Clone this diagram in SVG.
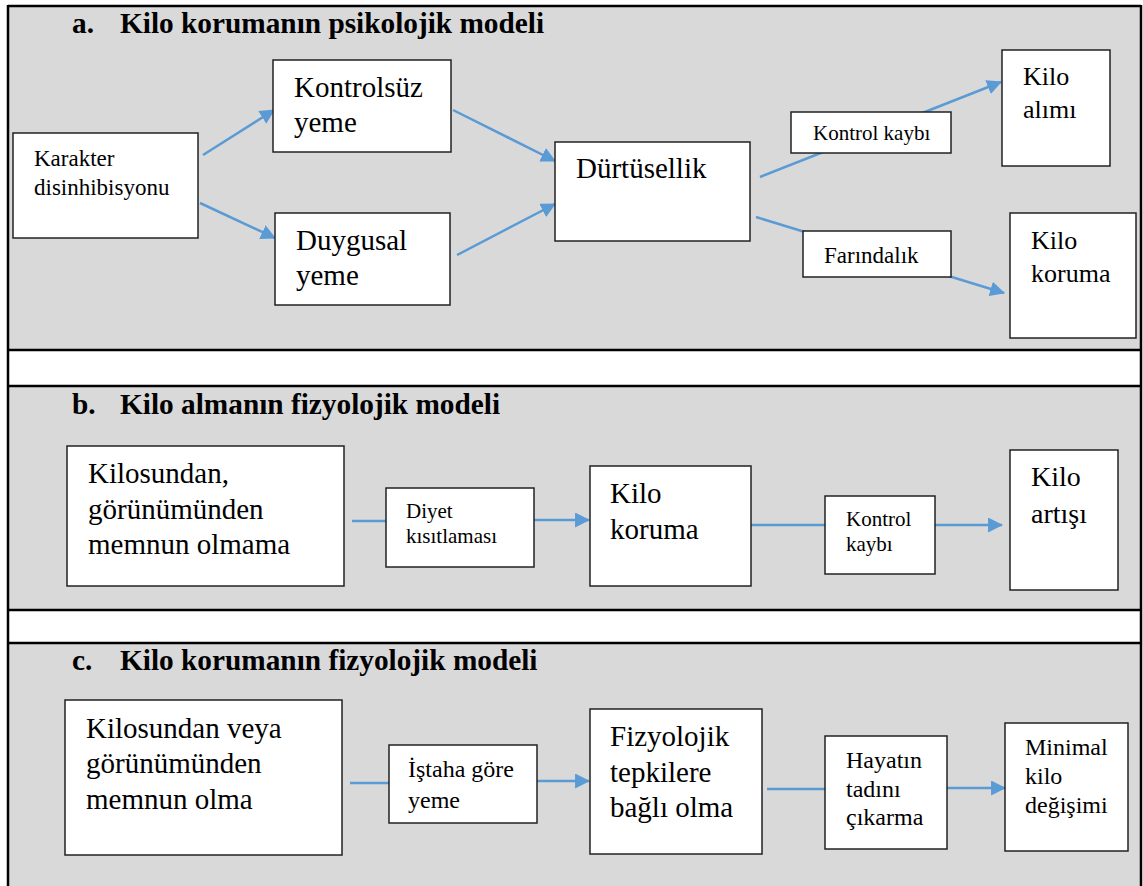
<svg xmlns="http://www.w3.org/2000/svg" width="1143" height="886" viewBox="0 0 1143 886">
<defs>
<marker id="ah" viewBox="0 0 14 14" refX="13" refY="7" markerWidth="15" markerHeight="15" markerUnits="userSpaceOnUse" orient="auto">
<path d="M0,0 L14,7 L0,14 z" fill="#5B9BD5"/>
</marker>
</defs>
<style>
.bg{fill:#D9D9D9}
.frame{fill:none;stroke:#000;stroke-width:2.5}
.box{fill:#fff;stroke:#222;stroke-width:1.5}
.t{font-family:"Liberation Serif","Times New Roman",serif;fill:#000}
.title{font-family:"Liberation Serif","Times New Roman",serif;font-weight:bold;font-size:29.3px;fill:#000}
.c{fill:none;stroke:#5B9BD5;stroke-width:2.5}
.arr{marker-end:url(#ah)}
</style>
<rect x="0" y="0" width="1143" height="886" fill="#fff"/>
<rect class="bg" x="8" y="6" width="1133" height="344"/>
<rect class="bg" x="8" y="386" width="1133" height="224"/>
<rect class="bg" x="8" y="643" width="1133" height="250"/>
<g id="frame">
<line class="frame" x1="8" y1="6" x2="1141" y2="6"/>
<line class="frame" x1="8" y1="5" x2="8" y2="886"/>
<line class="frame" x1="1141" y1="5" x2="1141" y2="886"/>
<line class="frame" x1="8" y1="350" x2="1141" y2="350"/>
<line class="frame" x1="8" y1="386" x2="1141" y2="386"/>
<line class="frame" x1="8" y1="610" x2="1141" y2="610"/>
<line class="frame" x1="8" y1="643" x2="1141" y2="643"/>
</g>
<g id="titles">
<text class="title" x="72" y="33">a.</text><text class="title" x="120" y="33">Kilo korumanın psikolojik modeli</text>
<text class="title" x="72" y="414">b.</text><text class="title" x="120" y="414">Kilo almanın fizyolojik modeli</text>
<text class="title" x="72" y="670">c.</text><text class="title" x="120" y="670">Kilo korumanın fizyolojik modeli</text>
</g>
<g id="connectors">
<line class="c arr" x1="203" y1="155" x2="274" y2="110"/>
<line class="c arr" x1="200" y1="203" x2="275" y2="238"/>
<line class="c arr" x1="453" y1="110" x2="555" y2="161"/>
<line class="c arr" x1="457" y1="255" x2="555" y2="204"/>
<line class="c arr" x1="760" y1="177" x2="1001" y2="82"/>
<line class="c arr" x1="756" y1="217" x2="1004" y2="293"/>
<line class="c" x1="352" y1="521" x2="386" y2="521"/>
<line class="c arr" x1="534" y1="520" x2="589" y2="520"/>
<line class="c" x1="751" y1="525" x2="825" y2="525"/>
<line class="c arr" x1="935" y1="525" x2="1002" y2="525"/>
<line class="c" x1="350" y1="783" x2="389" y2="783"/>
<line class="c arr" x1="537" y1="781" x2="589" y2="781"/>
<line class="c" x1="767" y1="789" x2="825" y2="789"/>
<line class="c arr" x1="947" y1="788" x2="1005" y2="788"/>
</g>
<g id="n-karakter"><rect class="box" x="13" y="133" width="185" height="105"/>
<text class="t" font-size="23" x="34" y="166">Karakter</text><text class="t" font-size="23" x="34" y="195">disinhibisyonu</text></g>
<g id="n-kontrolsuz"><rect class="box" x="273" y="60" width="178" height="92"/>
<text class="t" font-size="29" x="294" y="97">Kontrolsüz</text><text class="t" font-size="29" x="294" y="132">yeme</text></g>
<g id="n-duygusal"><rect class="box" x="275" y="213" width="175" height="92"/>
<text class="t" font-size="29" x="296" y="250">Duygusal</text><text class="t" font-size="29" x="296" y="285">yeme</text></g>
<g id="n-durtusellik"><rect class="box" x="555" y="142" width="195" height="99"/>
<text class="t" font-size="29" x="576" y="178">Dürtüsellik</text></g>
<g id="n-kontrolkaybi-a"><rect class="box" x="791" y="112" width="160" height="41"/>
<text class="t" font-size="21" x="813" y="140">Kontrol kaybı</text></g>
<g id="n-farindalik"><rect class="box" x="803" y="231" width="148" height="46"/>
<text class="t" font-size="23" x="824" y="263">Farındalık</text></g>
<g id="n-kiloalimi"><rect class="box" x="1002" y="50" width="108" height="116"/>
<text class="t" font-size="26" x="1023" y="85">Kilo</text><text class="t" font-size="26" x="1023" y="118">alımı</text></g>
<g id="n-kilokoruma-a"><rect class="box" x="1010" y="213" width="126" height="125"/>
<text class="t" font-size="26" x="1031" y="249">Kilo</text><text class="t" font-size="26" x="1031" y="282">koruma</text></g>
<g id="n-kilosundan-b"><rect class="box" x="67" y="446" width="277" height="140"/>
<text class="t" font-size="29" x="88" y="483">Kilosundan,</text><text class="t" font-size="29" x="88" y="519">görünümünden</text><text class="t" font-size="29" x="88" y="554">memnun olmama</text></g>
<g id="n-diyet"><rect class="box" x="386" y="488" width="148" height="79"/>
<text class="t" font-size="21" x="406" y="518">Diyet</text><text class="t" font-size="21" x="406" y="543">kısıtlaması</text></g>
<g id="n-kilokoruma-b"><rect class="box" x="590" y="466" width="161" height="120"/>
<text class="t" font-size="29" x="610" y="503">Kilo</text><text class="t" font-size="29" x="610" y="539">koruma</text></g>
<g id="n-kontrolkaybi-b"><rect class="box" x="825" y="496" width="110" height="78"/>
<text class="t" font-size="21" x="846" y="526">Kontrol</text><text class="t" font-size="21" x="846" y="551">kaybı</text></g>
<g id="n-kiloartisi"><rect class="box" x="1010" y="450" width="108" height="140"/>
<text class="t" font-size="28" x="1031" y="486">Kilo</text><text class="t" font-size="28" x="1031" y="523">artışı</text></g>
<g id="n-kilosundan-c"><rect class="box" x="65" y="700" width="277" height="155"/>
<text class="t" font-size="29" x="86" y="738">Kilosundan veya</text><text class="t" font-size="29" x="86" y="773">görünümünden</text><text class="t" font-size="29" x="86" y="809">memnun olma</text></g>
<g id="n-istaha"><rect class="box" x="389" y="745" width="148" height="78"/>
<text class="t" font-size="24" x="408" y="777">İştaha göre</text><text class="t" font-size="24" x="408" y="808">yeme</text></g>
<g id="n-fizyolojik"><rect class="box" x="590" y="709" width="172" height="145"/>
<text class="t" font-size="29" x="610" y="746">Fizyolojik</text><text class="t" font-size="29" x="610" y="782">tepkilere</text><text class="t" font-size="29" x="610" y="817">bağlı olma</text></g>
<g id="n-hayatin"><rect class="box" x="825" y="736" width="122" height="113"/>
<text class="t" font-size="24" x="846" y="768">Hayatın</text><text class="t" font-size="24" x="846" y="797">tadını</text><text class="t" font-size="24" x="846" y="825">çıkarma</text></g>
<g id="n-minimal"><rect class="box" x="1005" y="723" width="123" height="128"/>
<text class="t" font-size="24" x="1025" y="755">Minimal</text><text class="t" font-size="24" x="1025" y="784">kilo</text><text class="t" font-size="24" x="1025" y="813">değişimi</text></g>
</svg>
